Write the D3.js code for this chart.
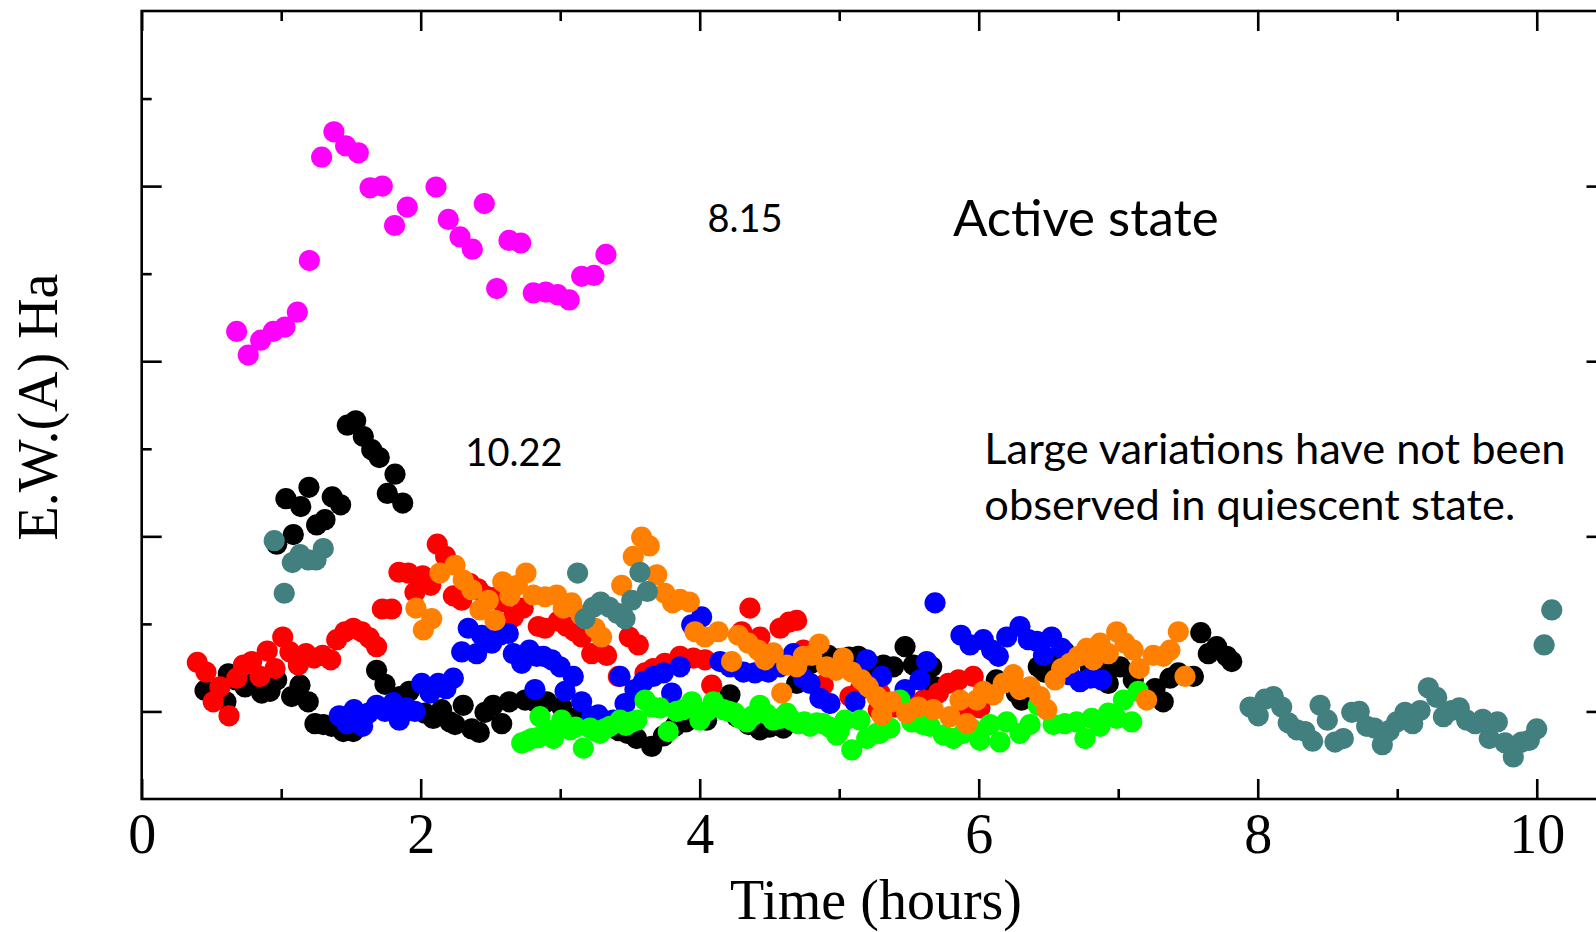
<!DOCTYPE html>
<html>
<head>
<meta charset="utf-8">
<script src="https://cdn.jsdelivr.net/npm/d3@7"></script>
<style>
  html, body { margin: 0; padding: 0; background: #fff; }
  svg { display: block; }
</style>
</head>
<body>
<svg id="chart" width="1596" height="932"></svg>
<script>
// ---------------- DATA ----------------
const xTicksMajor = [0, 2, 4, 6, 8, 10];
const xTicksMinor = [1, 3, 5, 7, 9];
const yTicksMajor = [1, 3, 5, 7];
const yTicksMinor = [2, 4, 6, 8];

const xTitle = "Time (hours)";
const yTitle = "E.W.(A) Ha";

const magentaPts = [
  [0.681,5.34],[0.764,5.07],[0.853,5.24],[0.943,5.34],[1.027,5.39],[1.116,5.56],[1.202,6.15],
  [1.290,7.33],[1.378,7.62],[1.462,7.46],[1.553,7.38],[1.637,6.98],[1.725,7.00],[1.813,6.55],
  [1.904,6.76],[2.110,6.99],[2.198,6.62],[2.282,6.42],[2.370,6.28],[2.456,6.80],[2.545,5.83],
  [2.633,6.38],[2.717,6.35],[2.807,5.78],[2.896,5.79],[2.982,5.76],[3.065,5.70],[3.154,5.97],
  [3.242,5.98],[3.328,6.22]
];

const blackPts = [
  [0.454,1.24],[0.604,1.11],[0.621,1.43],[0.676,1.36],[0.741,1.28],[0.800,1.32],[0.860,1.21],
  [0.920,1.23],[0.968,1.36],[1.075,1.17],[1.135,1.30],[1.194,1.11],[1.242,0.86],[1.302,0.85],
  [1.362,0.83],[1.445,0.77],[1.517,0.77],
  [0.968,2.91],[1.034,3.43],[1.087,3.02],[1.140,3.34],[1.199,3.56],[1.254,3.13],[1.314,3.19],
  [1.366,3.45],[1.426,3.36],[1.474,4.27],[1.534,4.32],[1.589,4.14],[1.649,3.99],[1.703,3.90],
  [1.761,3.49],[1.816,3.71],[1.871,3.38],
  [1.684,1.47],[1.744,1.31],[1.852,1.17],[1.918,1.23],[2.030,0.98],[2.090,0.92],[2.150,1.02],
  [2.210,0.88],[2.246,0.85],[2.305,1.07],[2.366,0.80],[2.420,0.76],[2.461,0.99],[2.520,1.07],
  [2.581,0.86],[2.635,1.11],[2.748,1.13],[2.830,1.10],[2.903,1.11],[3.011,1.05],[3.082,0.92],
  [3.150,0.88],[3.220,0.85],[3.290,0.80],[3.357,0.83],[3.420,0.78],[3.480,0.75],[3.548,0.69],
  [3.656,0.60],[3.740,0.72],[3.823,0.83],[3.900,0.88],[3.970,0.93],[4.050,0.90],[4.217,1.19],
  [4.265,0.94],[4.350,0.85],[4.432,0.79],[4.500,0.82],[4.599,0.81],[4.695,1.32],[4.800,1.55],
  [4.922,1.64],[5.000,1.60],[5.070,1.62],[5.137,1.63],[5.200,1.58],[5.250,1.50],[5.317,1.53],
  [5.389,1.51],[5.472,1.74],[5.532,1.53],[5.663,1.51],[5.687,1.28],[6.126,1.36],[6.270,1.21],
  [6.308,1.13],[6.427,1.51],[6.470,1.45],[6.550,1.55],[6.617,1.68],[6.800,1.50],[6.860,1.40],
  [6.929,1.32],[6.941,1.49],[7.013,1.51],[7.108,1.36],[7.264,1.26],[7.323,1.11],[7.371,1.38],
  [7.431,1.44],[7.539,1.40],[7.592,1.90],[7.646,1.66],[7.706,1.74],[7.778,1.63],[7.814,1.57]
];

const redPts = [
  [0.399,1.56],[0.461,1.45],[0.513,1.11],[0.561,1.28],[0.626,0.95],[0.681,1.38],[0.729,1.53],
  [0.789,1.57],[0.848,1.40],[0.900,1.69],[0.956,1.49],[1.011,1.85],[1.063,1.68],[1.123,1.53],
  [1.178,1.66],[1.235,1.61],[1.297,1.64],[1.355,1.59],[1.398,1.82],[1.457,1.91],[1.517,1.95],
  [1.577,1.91],[1.632,1.84],[1.684,1.74],
  [1.725,2.17],[1.792,2.17],[1.844,2.59],[1.911,2.58],[1.959,2.36],[2.014,2.55],[2.072,2.44],
  [2.119,2.91],[2.179,2.77],[2.234,2.32],[2.294,2.27],[2.353,2.46],[2.410,2.40],[2.461,2.32],
  [2.520,2.30],[2.581,2.25],[2.664,2.08],[2.735,2.18],[2.843,1.97],[2.891,1.95],[2.986,2.03],
  [3.047,1.97],[3.100,1.92],[3.154,1.85],[3.226,1.66],[3.333,1.64],[3.417,1.40],[3.495,1.85],
  [3.560,1.76],[3.608,1.44],[3.667,1.49],[3.750,1.55],[3.859,1.63],[3.954,1.61],[4.038,1.59],
  [4.086,1.30],[4.301,1.91],[4.360,2.18],[4.432,1.85],[4.576,1.95],[4.640,2.02],[4.695,2.04],
  [4.743,1.70],[4.886,1.30],[5.077,1.17],[5.150,1.25],[5.280,1.02],[5.292,1.21],[5.400,1.05],
  [5.450,1.05],[5.500,1.10],[5.603,1.13],[5.603,0.94],[5.711,1.21],[5.782,1.32],[5.854,1.36],
  [5.914,1.00],[5.961,1.40],[6.009,1.04]
];

const bluePts = [
  [1.416,0.95],[1.470,0.86],[1.522,1.02],[1.584,0.83],[1.625,0.98],[1.684,1.07],[1.744,1.00],
  [1.804,1.10],[1.847,0.90],[1.900,1.04],[1.959,1.00],[2.007,1.32],[2.067,1.21],[2.126,1.32],
  [2.181,1.26],[2.234,1.38],
  [2.294,1.68],[2.341,1.95],[2.401,1.66],[2.437,1.87],[2.509,1.78],[2.568,1.87],[2.628,1.89],
  [2.664,1.66],[2.724,1.55],[2.779,1.70],[2.819,1.25],[2.832,1.63],[2.879,1.63],[2.939,1.59],
  [2.999,1.51],[3.035,1.23],[3.094,1.40],[3.154,1.11],[3.226,0.94],[3.273,0.96],[3.330,0.88],
  [3.380,0.90],[3.429,1.40],[3.465,1.09],[3.536,1.25],[3.596,1.34],[3.667,1.40],[3.739,1.44],
  [3.799,1.21],[3.859,1.51],[3.943,1.99],[4.014,2.08],[4.146,1.57],[4.217,1.51],[4.313,1.45],
  [4.396,1.44],[4.492,1.45],[4.576,1.51],[4.671,1.66],[4.743,1.38],[4.791,1.32],[4.862,1.15],
  [4.934,1.09],[5.113,1.11],[5.197,1.59],[5.305,1.40],[5.472,1.25],[5.579,1.36],[5.627,1.57],
  [5.687,2.24],[5.873,1.87],[5.938,1.76],[6.033,1.82],[6.093,1.70],[6.141,1.63],[6.201,1.85],
  [6.296,1.97],[6.356,1.82],[6.416,1.80],[6.464,1.64],[6.523,1.85],[6.595,1.72],[6.650,1.42],
  [6.726,1.34],[6.800,1.38],[6.882,1.36]
];

const greenPts = [
  [2.724,0.64],[2.760,0.66],[2.796,0.69],[2.840,0.70],[2.855,0.94],[2.920,0.78],[2.951,0.69],
  [3.011,0.90],[3.070,0.79],[3.110,0.82],[3.166,0.58],[3.214,0.81],[3.250,0.78],[3.285,0.75],
  [3.320,0.80],[3.357,0.83],[3.429,0.90],[3.470,0.84],[3.513,0.88],[3.550,0.90],[3.608,1.13],
  [3.660,1.05],[3.716,1.04],[3.775,0.77],[3.835,1.00],[3.880,1.02],[3.943,1.11],[4.002,0.90],
  [4.050,1.00],[4.098,1.11],[4.169,1.02],[4.210,1.00],[4.253,0.98],[4.290,0.92],[4.337,0.88],
  [4.380,0.95],[4.432,1.07],[4.480,0.97],[4.527,0.90],[4.580,0.92],[4.624,0.98],[4.660,0.90],
  [4.707,0.86],[4.750,0.88],[4.791,0.83],[4.840,0.87],[4.886,0.86],[4.930,0.82],[4.982,0.73],
  [5.000,0.78],[5.041,0.90],[5.090,0.56],[5.149,0.90],[5.197,0.69],[5.269,0.75],[5.292,0.75],
  [5.364,0.81],[5.436,1.13],[5.520,0.88],[5.600,0.85],[5.651,0.83],[5.747,0.73],[5.818,0.69],
  [5.890,0.75],[5.950,0.80],[6.009,0.67],[6.081,0.85],[6.152,0.65],[6.201,0.88],[6.296,0.75],
  [6.368,0.85],[6.427,1.07],[6.534,0.85],[6.617,0.86],[6.702,0.88],[6.762,0.69],[6.810,0.92],
  [6.870,0.83],[6.929,0.98],[6.989,0.92],[7.037,1.13],[7.097,0.88],[7.144,1.23]
];

const orangePts = [
  [1.966,2.18],[2.019,1.93],[2.079,2.06],[2.138,2.58],[2.246,2.67],[2.305,2.50],[2.366,2.39],
  [2.425,2.16],[2.485,2.27],[2.533,2.04],[2.588,2.48],[2.640,2.32],[2.693,2.44],[2.755,2.58],
  [2.807,2.33],[2.891,2.31],[2.975,2.33],[3.022,2.18],[3.082,2.24],[3.150,2.10],[3.250,1.95],
  [3.297,1.85],[3.441,2.44],[3.524,2.77],[3.584,2.99],[3.639,2.89],[3.692,2.56],[3.751,2.35],
  [3.806,2.24],[3.859,2.28],[3.926,2.25],[3.966,1.91],[4.038,1.85],[4.133,1.91],[4.229,1.57],
  [4.277,1.87],[4.348,1.78],[4.420,1.70],[4.468,1.59],[4.527,1.67],[4.588,1.21],[4.624,1.53],
  [4.695,1.51],[4.743,1.63],[4.803,1.64],[4.857,1.77],[4.910,1.51],[4.977,1.47],[5.029,1.61],
  [5.090,1.45],[5.161,1.36],[5.209,1.28],[5.269,1.17],[5.292,1.13],[5.305,0.96],[5.376,1.11],
  [5.484,0.98],[5.567,1.05],[5.675,1.02],[5.794,0.94],[5.866,1.13],[5.914,0.86],[5.986,1.13],
  [6.033,1.23],[6.105,1.19],[6.176,1.32],[6.248,1.42],[6.296,1.25],[6.368,1.28],[6.439,1.17],
  [6.488,1.02],[6.547,1.36],[6.595,1.49],[6.655,1.55],[6.714,1.63],[6.774,1.72],[6.822,1.59],
  [6.870,1.78],[6.929,1.66],[6.989,1.91],[7.049,1.78],[7.108,1.70],[7.151,1.49],[7.204,1.13],
  [7.251,1.64],[7.323,1.63],[7.371,1.70],[7.431,1.91],[7.479,1.40]
];

const tealPts = [
  [0.950,2.95],[1.022,2.35],[1.080,2.70],[1.135,2.79],[1.194,2.73],[1.250,2.73],[1.302,2.86],
  [3.125,2.58],[3.178,2.06],[3.237,2.19],[3.290,2.25],[3.352,2.19],[3.410,2.12],[3.465,2.06],
  [3.513,2.27],[3.572,2.59],[3.625,2.37],
  [7.945,1.05],[8.004,0.95],[8.052,1.14],[8.112,1.17],[8.172,1.05],[8.219,0.87],[8.280,0.79],
  [8.339,0.77],[8.394,0.66],[8.447,1.07],[8.499,0.90],[8.554,0.65],[8.614,0.69],[8.674,0.99],
  [8.728,1.00],[8.781,0.83],[8.836,0.81],[8.893,0.62],[8.943,0.78],[8.996,0.88],[9.056,0.99],
  [9.111,0.86],[9.164,1.01],[9.223,1.27],[9.283,1.16],[9.331,0.94],[9.391,1.01],[9.445,1.04],
  [9.498,0.90],[9.558,0.86],[9.613,0.91],[9.660,0.69],[9.718,0.88],[9.773,0.64],[9.832,0.48],
  [9.892,0.65],[9.947,0.67],[10.000,0.80],[10.053,1.76],[10.108,2.16]
];

const seriesNames  = ["black", "red", "blue", "green", "orange", "teal", "magenta"];
const seriesData   = [blackPts, redPts, bluePts, greenPts, orangePts, tealPts, magentaPts];
const seriesColors = ["#000000", "#ff0000", "#0000ff", "#00ff00", "#ff8000", "#428080", "#ff00ff"];

const notes = [
  { text: "8.15", t: 4.055, v: 6.48, size: 38 },
  { text: "Active state", t: 5.815, v: 6.43, size: 51 },
  { text: "10.22", t: 2.32, v: 3.80, size: 38 },
  { text: "Large variations have not been", t: 6.04, v: 3.83, size: 43.4 },
  { text: "observed in quiescent state.", t: 6.04, v: 3.19, size: 43.4 }
];

// ---------------- CHART ----------------
const svg = d3.select("#chart");
const x = d3.scaleLinear().domain([0, 10.5]).range([141.7, 1606.5]);
const y = d3.scaleLinear().domain([0, 9]).range([799, 11]);

const serif = "'Liberation Serif', 'Times New Roman', serif";
const sans = "Lato, 'Open Sans', sans-serif";

// points
seriesData.forEach((pts, i) => {
  svg.append("g").attr("class", "series " + seriesNames[i])
    .selectAll("circle").data(pts).join("circle")
    .attr("cx", d => x(d[0]))
    .attr("cy", d => y(d[1]))
    .attr("r", 10.6)
    .attr("fill", seriesColors[i]);
});

// axes
function styleAxis(g) {
  g.select(".domain").remove();
  g.selectAll(".tick line").attr("stroke", "#000").attr("stroke-width", 2.6);
}
// bottom
svg.append("g").attr("transform", `translate(0,799)`)
  .call(d3.axisBottom(x).tickValues(xTicksMajor).tickSize(-20).tickPadding(14).tickFormat(d3.format("d")))
  .call(styleAxis)
  .call(g => g.selectAll("text").attr("font-family", serif).attr("font-size", 56).attr("fill", "#000"));
svg.append("g").attr("transform", `translate(0,799)`)
  .call(d3.axisBottom(x).tickValues(xTicksMinor).tickSize(-10).tickFormat(""))
  .call(styleAxis);
// top
svg.append("g").attr("transform", `translate(0,11)`)
  .call(d3.axisTop(x).tickValues(xTicksMajor).tickSize(-20).tickFormat(""))
  .call(styleAxis);
svg.append("g").attr("transform", `translate(0,11)`)
  .call(d3.axisTop(x).tickValues(xTicksMinor).tickSize(-10).tickFormat(""))
  .call(styleAxis);
// left
svg.append("g").attr("transform", `translate(141.7,0)`)
  .call(d3.axisLeft(y).tickValues(yTicksMajor).tickSize(-20).tickFormat(""))
  .call(styleAxis);
svg.append("g").attr("transform", `translate(141.7,0)`)
  .call(d3.axisLeft(y).tickValues(yTicksMinor).tickSize(-10).tickFormat(""))
  .call(styleAxis);
// right
svg.append("g").attr("transform", `translate(1606.5,0)`)
  .call(d3.axisRight(y).tickValues(yTicksMajor).tickSize(-20).tickFormat(""))
  .call(styleAxis);
svg.append("g").attr("transform", `translate(1606.5,0)`)
  .call(d3.axisRight(y).tickValues(yTicksMinor).tickSize(-10).tickFormat(""))
  .call(styleAxis);

// frame
svg.append("rect")
  .attr("x", x(0)).attr("y", y(9))
  .attr("width", x(10.5) - x(0)).attr("height", y(0) - y(9))
  .attr("fill", "none").attr("stroke", "#000").attr("stroke-width", 2.6);

// axis titles
svg.append("text")
  .attr("x", 876).attr("y", 919)
  .attr("text-anchor", "middle")
  .attr("font-family", serif).attr("font-size", 56).attr("fill", "#000")
  .text(xTitle);
svg.append("text")
  .attr("transform", `translate(57,${y(4.5) + 2}) rotate(-90)`)
  .attr("text-anchor", "middle")
  .attr("font-family", serif).attr("font-size", 56).attr("fill", "#000")
  .text(yTitle);

// annotations
svg.append("g").selectAll("text").data(notes).join("text")
  .attr("x", d => x(d.t)).attr("y", d => y(d.v))
  .attr("font-family", sans).attr("font-size", d => d.size).attr("fill", "#000")
  .text(d => d.text);
</script>
</body>
</html>
